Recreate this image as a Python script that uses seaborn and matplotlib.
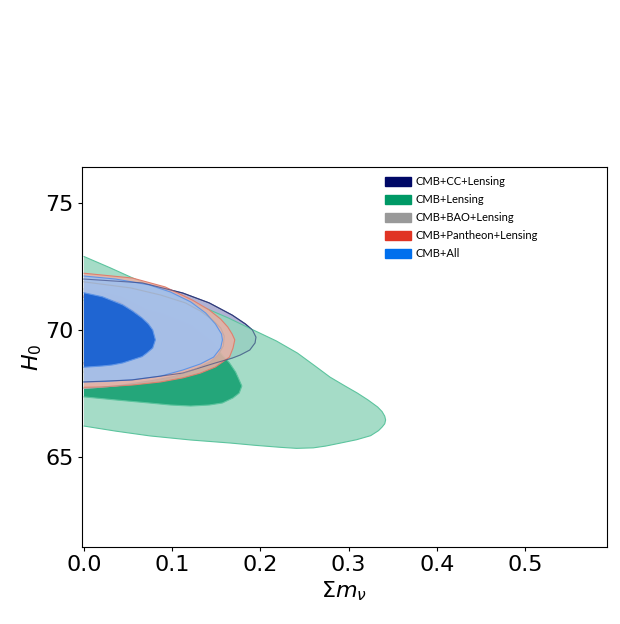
import numpy as np
import matplotlib
matplotlib.use("Agg")
import matplotlib.pyplot as plt
import seaborn as sns

# contour outlines (sum m_nu, H0), 2 sigma and 1 sigma
cc_2s_x = [0, 0.066, 0.112, 0.142, 0.168, 0.183, 0.191, 0.195, 0.194, 0.188, 0.177, 0.168, 0.149, 0.112, 0.055, 0]
cc_2s_y = [72.01, 71.86, 71.46, 71.07, 70.59, 70.24, 70.00, 69.72, 69.49, 69.21, 69.01, 68.89, 68.70, 68.30, 68.03, 67.95]
cc_1s_x = [0, 0.041, 0.062, 0.070, 0.066, 0.045, 0]
cc_1s_y = [71.30, 71.10, 70.60, 69.90, 69.30, 68.85, 68.70]

lens_2s_x = [0, 0.030, 0.063, 0.098, 0.132, 0.164, 0.192, 0.218, 0.242, 0.262, 0.279, 0.296, 0.310, 0.322,
             0.333, 0.338, 0.341, 0.342, 0.341, 0.338, 0.334, 0.325, 0.309, 0.291, 0.274, 0.260, 0.241, 0.223,
             0.194, 0.166, 0.121, 0.075, 0.036, 0]
lens_2s_y = [72.90, 72.45, 71.93, 71.42, 70.95, 70.47, 70.00, 69.57, 69.09, 68.58, 68.14, 67.79, 67.51, 67.24,
             66.96, 66.78, 66.60, 66.45, 66.30, 66.17, 66.03, 65.83, 65.67, 65.54, 65.42, 65.35, 65.33, 65.37,
             65.45, 65.54, 65.66, 65.82, 66.01, 66.21]
lens_1s_x = [0, 0.041, 0.087, 0.121, 0.146, 0.157, 0.165, 0.172, 0.176, 0.179, 0.176, 0.169, 0.157, 0.142,
             0.121, 0.098, 0.074, 0.036, 0]
lens_1s_y = [71.18, 71.03, 70.67, 70.20, 69.53, 69.01, 68.70, 68.34, 68.03, 67.79, 67.51, 67.32, 67.12, 67.04,
             67.00, 67.04, 67.12, 67.24, 67.36]

bao_2s_x = [0, 0.053, 0.087, 0.115, 0.132, 0.146, 0.155, 0.159, 0.158, 0.152, 0.143, 0.126, 0.104, 0.075, 0.036, 0]
bao_2s_y = [71.90, 71.66, 71.38, 71.07, 70.75, 70.39, 70.08, 69.76, 69.37, 69.01, 68.74, 68.46, 68.18, 67.99, 67.79, 67.69]
bao_1s_x = [0, 0.041, 0.070, 0.087, 0.095, 0.096, 0.092, 0.081, 0.058, 0.030, 0]
bao_1s_y = [71.62, 71.30, 70.79, 70.32, 69.88, 69.61, 69.21, 68.89, 68.58, 68.42, 68.34]

pan_2s_x = [0, 0.055, 0.092, 0.123, 0.142, 0.155, 0.163, 0.168, 0.171, 0.169, 0.165, 0.149, 0.132, 0.112,
            0.087, 0.055, 0.019, 0]
pan_2s_y = [72.24, 72.05, 71.70, 71.18, 70.79, 70.43, 70.12, 69.84, 69.61, 69.29, 68.93, 68.54, 68.30, 68.11,
            67.95, 67.83, 67.75, 67.74]
pan_1s_x = [0, 0.040, 0.063, 0.072, 0.068, 0.045, 0]
pan_1s_y = [71.35, 71.12, 70.60, 69.90, 69.25, 68.80, 68.65]

all_2s_x = [0, 0.036, 0.074, 0.098, 0.121, 0.138, 0.149, 0.156, 0.157, 0.155, 0.147, 0.132, 0.112, 0.087,
            0.053, 0.024, 0]
all_2s_y = [72.13, 72.01, 71.78, 71.50, 71.11, 70.67, 70.24, 69.84, 69.61, 69.29, 68.93, 68.66, 68.42, 68.18,
            68.03, 67.97, 67.95]
all_1s_x = [0, 0.021, 0.044, 0.055, 0.066, 0.073, 0.078, 0.081, 0.078, 0.072, 0.066, 0.044, 0.032, 0.021, 0]
all_1s_y = [71.47, 71.31, 70.99, 70.75, 70.47, 70.24, 70.00, 69.61, 69.29, 69.11, 68.95, 68.70, 68.62, 68.58, 68.53]

labels = ["CMB+CC+Lensing", "CMB+Lensing", "CMB+BAO+Lensing", "CMB+Pantheon+Lensing", "CMB+All"]
colors = ["#000866", "#009966", "#999999", "#E03424", "#006FED"]

sns.set_style("ticks")
plt.rcParams.update({"text.color": "black", "axes.labelcolor": "black",
                     "xtick.color": "black", "ytick.color": "black", "axes.edgecolor": "black"})
fig = plt.figure(figsize=(6.2, 6.24), dpi=100)
ax = fig.add_axes([0.1327, 0.1239, 0.8458, 0.608])


def draw(layer, x2, y2, x1, y1, light, dark, edge, alpha_light=0.85, lw=0.8):
    z = 2 + layer
    ax.fill(x2, y2, color=light, alpha=alpha_light, lw=0, zorder=z)
    ax.fill(x1, y1, color=dark, lw=0, zorder=z + 0.2)
    sns.lineplot(x=x2, y=y2, sort=False, estimator=None, color=edge, lw=lw, ax=ax, zorder=z + 0.1)
    sns.lineplot(x=x1, y=y1, sort=False, estimator=None, color=edge, lw=lw, ax=ax, zorder=z + 0.3)


# drawing order: CC at the bottom, CMB+All on top
draw(0, cc_2s_x, cc_2s_y, cc_1s_x, cc_1s_y, "#a3a5cd", "#4a4f8f", "#2e3a7a")
draw(1, lens_2s_x, lens_2s_y, lens_1s_x, lens_1s_y, "#96d6be", "#24a67a", "#5cc49e")
draw(2, bao_2s_x, bao_2s_y, bao_1s_x, bao_1s_y, "#cbcbcb", "#a8a8a8", "#b0b0b0")
draw(3, pan_2s_x, pan_2s_y, pan_1s_x, pan_1s_y, "#e9b0a6", "#e0603f", "#e07f6d")
draw(4, all_2s_x, all_2s_y, all_1s_x, all_1s_y, "#9cc1f2", "#1f65d2", "#5f95e6")

# outlines that show through the upper layers
sns.lineplot(x=cc_2s_x, y=cc_2s_y, sort=False, estimator=None, color="#2e3a7a", lw=0.8, alpha=0.6, ax=ax, zorder=8)
sns.lineplot(x=bao_2s_x, y=bao_2s_y, sort=False, estimator=None, color="#a0a0a0", lw=0.8, alpha=0.4, ax=ax, zorder=8)

ax.set_xlim(-0.0019, 0.5926)
ax.set_ylim(61.45, 76.42)
ax.set_xticks([0.0, 0.1, 0.2, 0.3, 0.4, 0.5])
ax.set_yticks([65, 70, 75])
ax.tick_params(labelsize=16, length=2.7, width=0.8, pad=3.5)
ax.set_xlabel(r"$\Sigma m_\nu$", fontsize=16, labelpad=3)
ax.set_ylabel(r"$H_0$", fontsize=16, labelpad=1)
for s in ax.spines.values():
    s.set_linewidth(0.8)

handles = [matplotlib.patches.Patch(color=c) for c in colors]
ax.legend(handles, labels, loc="upper left", bbox_to_anchor=(0.577, 0.976), frameon=False,
          borderaxespad=0, borderpad=0, handlelength=2.35, handleheight=0.9, labelspacing=0.62,
          handletextpad=0.4, prop={"family": "Lato", "size": 8})

fig.savefig("out.png", dpi=100)
